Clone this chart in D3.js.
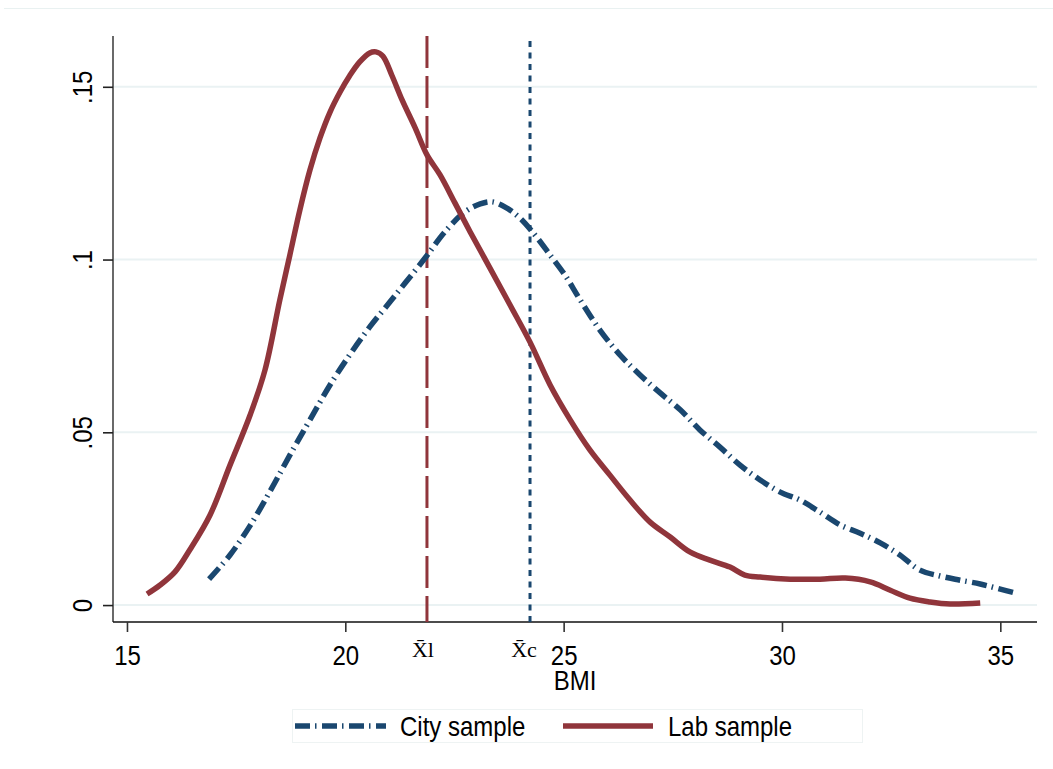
<!DOCTYPE html>
<html>
<head>
<meta charset="utf-8">
<script src="https://cdn.jsdelivr.net/npm/d3@7"></script>
<style>
  html, body { margin: 0; padding: 0; background: #fff; }
  svg { display: block; }
  .lbl { font-family: "Liberation Sans", Arial, Helvetica, sans-serif; font-size: 24px; fill: #000; }
  .mlbl { font-family: "Liberation Serif", "Times New Roman", serif; font-size: 22px; fill: #000; }
</style>
</head>
<body>
<svg id="chart" width="1053" height="769"></svg>
<script>
// ---- data ----
const labBMI = [15.46,15.76,16.1,16.44,16.9,17.36,17.82,18.16,18.5,18.73,18.96,19.19,19.42,19.65,19.88,20.1,20.33,20.56,20.7,20.86,21.07,21.3,21.6,21.87,22.17,22.51,22.86,23.31,23.77,24.23,24.69,25.15,25.6,26.06,26.52,26.98,27.44,27.9,28.35,28.81,29.15,29.5,30.19,30.87,31.45,32.02,32.48,32.93,33.39,33.85,34.54];
const labDensity = [0.0032,0.0058,0.0096,0.016,0.026,0.0405,0.055,0.068,0.0883,0.1013,0.1144,0.1259,0.1352,0.1427,0.1485,0.1532,0.1572,0.1598,0.1601,0.1589,0.1532,0.1462,0.1381,0.1303,0.1245,0.1164,0.108,0.0976,0.0869,0.0761,0.0637,0.0536,0.0449,0.0376,0.0304,0.024,0.0197,0.0153,0.013,0.011,0.0087,0.0081,0.0075,0.0075,0.0078,0.0067,0.0043,0.002,0.0009,0.0003,0.0006];
const cityBMI = [16.88,17.36,17.82,18.28,18.73,19.19,19.65,20.1,20.56,21.02,21.37,21.83,22.28,22.74,23.09,23.36,23.66,24.0,24.35,24.69,25.03,25.38,25.83,26.29,26.75,27.21,27.67,28.12,28.58,29.04,29.5,29.96,30.41,30.87,31.33,31.79,32.25,32.7,33.16,33.62,34.08,34.54,35.0,35.34];
const cityDensity = [0.0075,0.0145,0.023,0.033,0.0434,0.0536,0.0637,0.0724,0.0805,0.0877,0.0932,0.1005,0.108,0.1138,0.1161,0.1167,0.1152,0.112,0.107,0.1013,0.0955,0.0883,0.0796,0.0724,0.0666,0.0614,0.0565,0.0507,0.0457,0.0405,0.0362,0.0327,0.0304,0.0269,0.0232,0.0208,0.018,0.0145,0.0101,0.0084,0.0072,0.0061,0.0046,0.0035];
const labMean = 21.87;
const cityMean = 24.23;
const xTicks = [15, 20, 25, 30, 35];
const yTicks = [0, 0.05, 0.1, 0.15];
const yTickLabels = ["0", ".05", ".1", ".15"];
const seriesNames = ["City sample", "Lab sample"];
const xTitle = "BMI";

// ---- layout ----
const svg = d3.select("#chart");
const pLeft = 113, pRight = 1037, pTop = 36, pBottom = 622;
const x = d3.scaleLinear().domain([14.68, 35.84]).range([pLeft, pRight]);
const y = d3.scaleLinear().domain([-0.0049, 0.1647]).range([pBottom, pTop]);
const RED = "#90353b", BLUE = "#1a476f";
const SY = 1.18; // vertical stretch of the tall sans labels

// faint outer line at top
svg.append("line").attr("x1", 4).attr("x2", 1053).attr("y1", 8.5).attr("y2", 8.5)
  .attr("stroke", "#e9f1f1").attr("stroke-width", 1);

// gridlines
svg.append("g").selectAll("line").data(yTicks).join("line")
  .attr("x1", pLeft).attr("x2", pRight)
  .attr("y1", d => y(d)).attr("y2", d => y(d))
  .attr("stroke", "#eaf2f3").attr("stroke-width", 2);

// axes
const yAxis = d3.axisLeft(y).tickValues(yTicks).tickSize(10).tickFormat((d, i) => yTickLabels[i]);
const gy = svg.append("g").attr("transform", `translate(${pLeft},0)`).call(yAxis);
gy.select(".domain").attr("d", `M0,${pTop}V${pBottom}`).attr("stroke", "#444").attr("stroke-width", 1.6);
gy.selectAll(".tick line").attr("stroke", "#222").attr("stroke-width", 1.6);
gy.selectAll(".tick text").attr("class", "lbl").attr("text-anchor", "middle")
  .attr("x", null).attr("y", null).attr("dy", null)
  .attr("transform", `translate(-21,0) rotate(-90) scale(1,${SY})`);

const xAxis = d3.axisBottom(x).tickValues(xTicks).tickSize(10).tickFormat(d3.format("d"));
const gx = svg.append("g").attr("transform", `translate(0,${pBottom})`).call(xAxis);
gx.select(".domain").attr("d", `M${pLeft},0H${pRight}`).attr("stroke", "#111").attr("stroke-width", 1.6);
gx.selectAll(".tick line").attr("stroke", "#333").attr("stroke-width", 1.6);
gx.selectAll(".tick text").attr("class", "lbl").attr("y", null).attr("dy", null)
  .attr("transform", `translate(0,43) scale(1,${SY})`);

svg.append("text").attr("class", "lbl").attr("text-anchor", "middle")
  .attr("transform", `translate(${(pLeft + pRight) / 2},690) scale(1,${SY})`).text(xTitle);

// mean lines
svg.append("line").attr("x1", x(labMean)).attr("x2", x(labMean)).attr("y1", pTop).attr("y2", pBottom)
  .attr("stroke", RED).attr("stroke-width", 3).attr("stroke-dasharray", "32,8");
svg.append("line").attr("x1", x(cityMean)).attr("x2", x(cityMean)).attr("y1", 41).attr("y2", pBottom)
  .attr("stroke", BLUE).attr("stroke-width", 3).attr("stroke-dasharray", "6,5.5");

svg.append("text").attr("class", "mlbl").attr("x", x(labMean) - 4).attr("y", 657)
  .attr("text-anchor", "middle").text("X\u0304l");
svg.append("text").attr("class", "mlbl").attr("x", x(cityMean) - 6).attr("y", 657)
  .attr("text-anchor", "middle").text("X\u0304c");

// curves
const line = d3.line().x(d => x(d[0])).y(d => y(d[1])).curve(d3.curveCatmullRom.alpha(0.5));
const cityPts = cityBMI.map((v, i) => [v, cityDensity[i]]);
const labPts = labBMI.map((v, i) => [v, labDensity[i]]);

svg.append("path").attr("d", line(cityPts)).attr("fill", "none")
  .attr("stroke", BLUE).attr("stroke-width", 5.5).attr("stroke-dasharray", "15,5,1.5,5.5");
svg.append("path").attr("d", line(labPts)).attr("fill", "none")
  .attr("stroke", RED).attr("stroke-width", 5.5).attr("stroke-linejoin", "round");

// legend
const lg = svg.append("g");
lg.append("rect").attr("x", 292.5).attr("y", 709.5).attr("width", 570).attr("height", 33)
  .attr("fill", "none").attr("stroke", "#eef3f3").attr("stroke-width", 1);
lg.append("line").attr("x1", 295).attr("x2", 386).attr("y1", 726).attr("y2", 726)
  .attr("stroke", BLUE).attr("stroke-width", 5.5).attr("stroke-dasharray", "15,5,1.5,5.5");
lg.append("text").attr("class", "lbl").attr("transform", `translate(400,736) scale(1,${SY})`).text(seriesNames[0]);
lg.append("line").attr("x1", 563).attr("x2", 653).attr("y1", 726).attr("y2", 726)
  .attr("stroke", RED).attr("stroke-width", 5.5);
lg.append("text").attr("class", "lbl").attr("transform", `translate(668,736) scale(1,${SY})`).text(seriesNames[1]);
</script>
</body>
</html>
